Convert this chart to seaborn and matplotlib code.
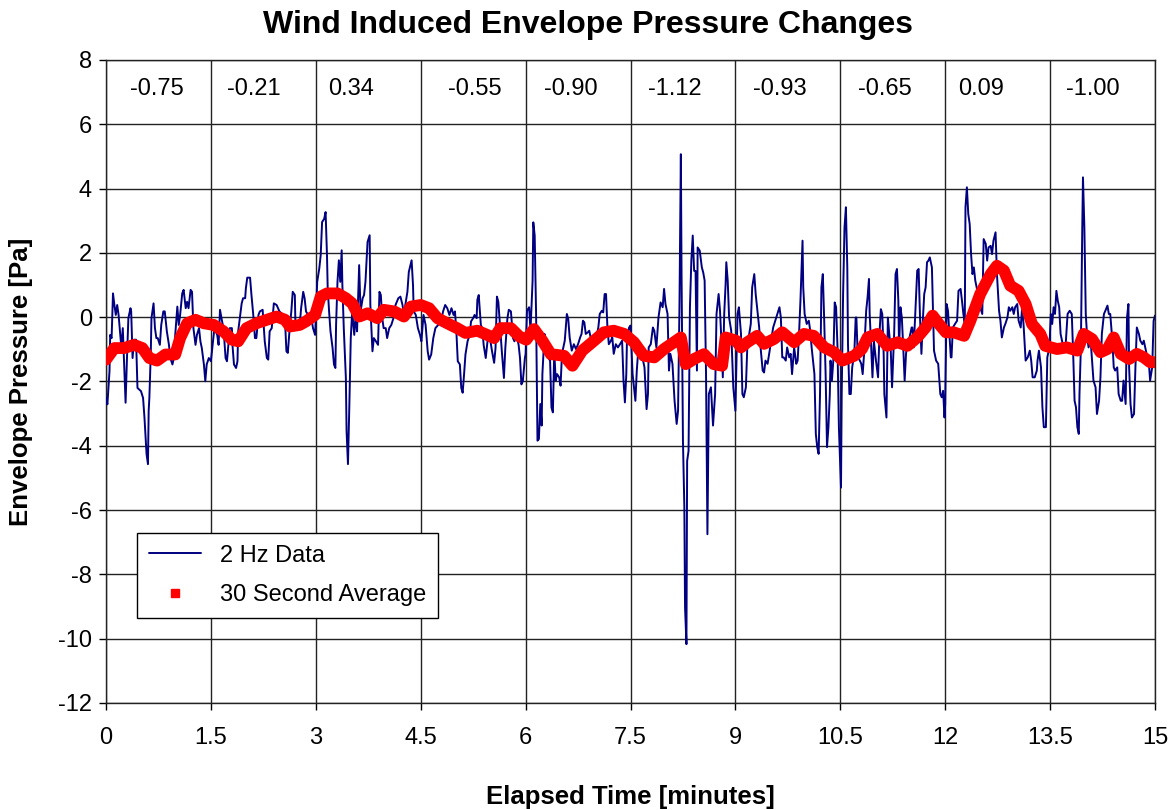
import matplotlib
matplotlib.use("Agg")
import matplotlib.pyplot as plt
import seaborn as sns
import pandas as pd
from matplotlib.lines import Line2D

# ---- 2 Hz data (minutes, Pa) ----
t_blue = [
 0.00,0.02,0.05,0.06,0.08,0.10,0.12,0.14,0.16,0.18,0.20,0.22,0.24,0.26,0.28,0.30,0.32,0.35,0.36,0.38,
 0.40,0.43,0.45,0.50,0.53,0.55,0.58,0.60,0.61,0.62,0.64,0.65,0.68,0.70,0.72,0.74,0.77,0.79,0.82,0.84,
 0.87,0.90,0.92,0.95,0.97,0.99,1.02,1.04,1.06,1.09,1.11,1.14,1.16,1.18,1.21,1.23,1.25,1.28,1.30,1.33,
 1.35,1.37,1.40,1.42,1.44,1.47,1.50,1.53,1.55,1.59,1.61,1.63,1.66,1.68,1.71,1.73,1.75,1.77,1.80,1.81,
 1.83,1.86,1.88,1.89,1.92,1.94,1.96,1.99,2.00,2.02,2.06,2.08,2.11,2.13,2.15,2.18,2.20,2.24,2.27,2.30,
 2.32,2.34,2.37,2.40,2.44,2.48,2.51,2.56,2.58,2.60,2.63,2.65,2.67,2.70,2.71,2.74,2.77,2.79,2.82,2.84,
 2.86,2.89,2.91,2.93,2.96,2.99,
 3.00,3.02,3.05,3.07,3.09,3.12,3.14,3.16,3.17,3.19,3.21,3.24,3.26,3.28,3.29,3.31,3.33,3.35,3.37,3.38,
 3.40,3.43,3.44,3.46,3.48,3.50,3.52,3.55,3.57,3.59,3.62,3.64,3.67,3.69,3.71,3.74,3.77,3.78,3.81,3.83,
 3.86,3.89,3.91,3.93,3.95,3.97,4.00,4.02,4.05,4.08,4.11,4.14,4.18,4.21,4.24,4.26,4.28,4.31,4.33,4.37,
 4.39,4.40,4.43,4.46,4.49,4.51,4.54,4.57,4.60,4.62,4.65,4.68,4.71,4.75,4.79,4.82,4.85,4.88,4.91,4.94,
 4.97,4.99,5.01,5.03,5.06,5.08,5.10,5.12,5.14,5.17,5.20,5.22,5.25,5.27,5.30,5.31,5.33,5.36,5.38,5.40,
 5.43,5.46,5.49,5.52,5.55,5.57,5.59,5.61,5.63,5.66,5.69,5.71,5.74,5.76,5.79,5.82,5.84,5.87,5.90,5.92,
 5.94,5.96,5.99,
 6.00,6.02,6.05,6.07,6.10,6.11,6.13,6.15,6.17,6.19,6.21,6.23,6.24,6.27,6.29,6.32,6.35,6.37,6.39,6.41,
 6.43,6.45,6.48,6.50,6.52,6.56,6.59,6.61,6.63,6.66,6.69,6.72,6.75,6.78,6.80,6.82,6.84,6.86,6.89,6.91,
 6.93,6.96,6.99,7.02,7.04,7.06,7.09,7.11,7.13,7.15,7.17,7.19,7.22,7.24,7.26,7.29,7.32,7.35,7.38,7.40,
 7.42,7.44,7.45,7.48,7.50,7.53,7.55,7.57,7.59,7.61,7.64,7.67,7.70,7.73,7.75,7.76,7.79,7.82,7.84,7.87,
 7.90,7.93,7.96,7.98,8.00,8.03,8.05,8.07,8.10,8.13,8.16,8.18,8.20,8.21,8.22,8.23,8.25,8.27,8.28,8.30,
 8.31,8.33,8.35,8.37,8.39,8.41,8.43,8.45,8.46,8.49,8.52,8.54,8.56,8.58,8.60,8.62,8.65,8.67,8.68,8.71,
 8.73,8.76,8.78,8.80,8.82,8.84,8.86,8.87,8.89,8.91,8.94,8.97,9.00,
 9.03,9.05,9.08,9.10,9.12,9.15,9.17,9.19,9.22,9.24,9.27,9.29,9.31,9.34,9.36,9.39,9.41,9.43,9.46,9.49,
 9.51,9.54,9.57,9.60,9.63,9.65,9.67,9.69,9.72,9.74,9.77,9.79,9.81,9.84,9.87,9.89,9.91,9.93,9.96,9.97,
 9.99,10.02,10.05,10.07,10.09,10.11,10.13,10.15,10.17,10.19,10.21,10.23,10.25,10.27,10.29,10.31,10.33,10.35,10.36,10.38,
 10.40,10.42,10.44,10.46,10.48,10.51,10.52,10.54,10.56,10.58,10.60,10.61,10.63,10.65,10.67,10.70,10.72,10.73,10.75,10.78,
 10.80,10.82,10.84,10.87,10.89,10.91,10.92,10.94,10.96,10.98,11.01,11.04,11.06,11.08,11.10,11.12,11.13,11.16,11.18,11.20,
 11.22,11.24,11.27,11.29,11.31,11.33,11.34,11.36,11.38,11.40,11.42,11.44,11.46,11.49,11.52,11.53,11.55,11.58,11.60,11.62,
 11.64,11.66,11.68,11.70,11.72,11.74,11.76,11.78,11.81,11.84,11.87,11.90,11.93,11.95,11.97,11.99,
 12.00,12.02,12.04,12.06,12.08,12.09,12.11,12.14,12.17,12.19,12.22,12.24,12.26,12.28,12.29,12.31,12.33,12.35,12.37,12.39,
 12.41,12.43,12.46,12.48,12.50,12.53,12.55,12.58,12.60,12.62,12.65,12.67,12.69,12.72,12.74,12.77,12.79,12.81,12.84,12.86,
 12.89,12.91,12.93,12.96,12.98,13.00,13.03,13.05,13.08,13.10,13.12,13.15,13.18,13.21,13.23,13.25,13.28,13.31,13.32,13.34,
 13.37,13.39,13.41,13.44,13.46,13.49,13.51,13.53,13.55,13.57,13.59,13.61,13.63,13.65,13.68,13.70,13.72,13.75,13.78,13.81,
 13.83,13.85,13.87,13.89,13.91,13.92,13.94,13.96,13.97,13.99,14.01,14.03,14.05,14.08,14.10,14.12,14.15,14.17,14.20,14.22,
 14.24,14.27,14.29,14.32,14.34,14.36,14.39,14.41,14.43,14.46,14.48,14.51,14.53,14.55,14.58,14.60,14.62,14.63,14.65,14.67,
 14.70,14.72,14.74,14.77,14.79,14.82,14.84,14.86,14.89,14.91,14.93,14.96,14.98,15.00,
]
p_blue = [
 -2.51,-2.71,-1.68,-0.55,-0.65,0.74,0.38,0.07,0.38,0.07,-0.44,-0.96,-0.34,-1.47,-2.66,-1.27,-0.03,0.28,0.18,-1.27,
 -0.70,-0.70,-2.20,-2.30,-2.51,-3.12,-4.26,-4.57,-2.92,-2.51,-1.16,-0.03,0.43,-0.34,-0.65,-0.65,-0.86,-0.24,0.18,0.18,
 -0.44,-0.86,-1.27,-1.47,-1.27,-0.55,0.33,-0.24,0.07,0.74,0.85,0.28,0.48,0.28,0.85,0.79,-0.34,-0.86,-0.55,-0.34,
 -0.75,-0.96,-1.47,-1.99,-1.47,-1.27,-1.37,-0.75,-0.34,-0.55,-0.86,0.23,-0.13,-0.34,-1.27,-1.37,-0.86,-0.34,-0.34,-0.91,
 -1.47,-1.58,-1.37,-0.44,0.07,0.43,0.59,0.59,0.90,1.23,1.23,0.69,-0.03,-0.65,-0.65,0.07,0.18,0.23,-0.75,-1.27,
 -1.32,-0.44,-0.34,0.43,0.38,0.18,0.12,-0.13,-1.06,-1.11,-0.24,0.18,0.79,0.69,-0.34,-0.24,-0.24,0.28,0.79,0.59,
 0.18,0.07,-0.03,0.07,-0.34,-0.55,
 -0.03,1.10,1.52,1.93,2.96,3.06,3.27,1.93,0.90,0.18,-0.44,-0.96,-1.47,-1.58,-0.24,1.10,1.77,1.10,2.08,1.00,
 -0.34,-1.89,-3.54,-4.57,-2.71,-0.65,0.18,-0.55,0.07,-0.44,1.62,0.18,0.59,0.69,1.10,2.34,2.55,0.38,-1.06,-0.65,
 -0.75,-0.86,0.79,0.69,-0.03,-0.34,-0.34,-0.65,-0.34,-0.24,-0.03,0.38,0.59,0.64,0.38,0.07,0.38,0.79,1.41,1.77,
 1.00,0.18,0.07,-0.34,-0.55,-0.75,0.07,-0.24,-1.06,-1.32,-1.16,-0.65,-0.34,-0.24,-0.13,0.18,0.38,0.28,0.07,0.28,
 0.07,0.18,-0.44,-1.37,-1.47,-2.20,-2.35,-1.78,-1.16,-0.75,-0.55,-0.13,-0.03,0.07,-0.03,0.54,0.69,-0.24,-0.34,-0.86,
 -1.27,-0.65,-0.65,-1.06,-1.42,-0.96,0.64,0.48,-0.13,-1.06,-1.89,-0.96,-0.03,0.23,0.18,-0.65,-0.75,-0.55,-0.86,-1.27,
 -2.09,-1.99,-1.27,
 -1.14,0.20,0.31,-0.42,1.14,2.95,2.54,0.10,-3.84,-3.79,-2.70,-3.37,-1.77,-0.52,-0.84,-1.25,-1.35,-2.81,-2.96,-1.04,
 -1.97,-1.77,-1.87,-2.13,-1.14,-0.73,0.10,-0.06,-0.63,-1.04,-0.84,-0.99,-0.84,-0.63,-0.52,-0.11,-0.16,-0.52,-0.47,-0.42,
 -0.63,-0.73,-0.84,-0.52,-0.32,0.10,0.20,0.15,0.72,0.72,-0.32,-0.84,-0.73,-0.63,-1.14,-0.84,-0.94,-0.84,-0.73,-1.97,
 -2.65,-1.77,-0.63,-0.32,-0.26,-1.77,-2.18,-2.60,-1.66,-1.04,-1.14,-1.25,-1.56,-2.86,-2.39,-0.94,-0.84,-0.32,-0.42,-0.94,
 -0.01,0.46,0.31,0.88,0.41,0.10,-1.66,-1.14,-1.45,-2.60,-3.32,-2.91,0.31,2.59,5.07,1.34,-3.84,-5.92,-9.03,-10.17,
 -4.47,-4.16,0.31,1.76,2.54,1.44,1.44,-1.66,2.17,2.07,1.55,1.39,1.14,-1.77,-6.75,-2.39,-2.18,-3.01,-3.37,-2.39,
 0.10,0.72,0.20,-0.73,-1.87,0.10,1.03,1.71,1.14,-0.01,-0.42,-2.18,-2.91,
 0.10,0.31,-0.52,-2.39,-2.49,-2.18,-0.94,-0.63,-0.21,0.93,1.34,0.72,0.31,-0.32,-0.94,-1.66,-1.72,-1.35,-1.45,-1.04,
 -0.73,-0.32,-0.11,0.10,0.31,-0.01,-1.25,-1.25,-1.35,-0.94,-1.25,-1.14,-1.77,-0.94,-1.45,-1.35,-0.52,0.51,2.38,0.93,
 0.10,-0.21,-0.11,-0.42,-0.94,-1.35,-1.77,-3.63,-4.04,-4.25,-2.39,0.93,1.34,-0.11,-1.77,-4.04,-3.43,-2.39,-1.35,-1.97,
 -1.35,0.46,0.31,-0.94,-3.43,-5.30,-2.39,0.72,2.79,3.42,1.55,-0.84,-2.39,-2.39,-1.56,-1.14,-0.01,-0.01,-1.25,-1.35,
 -1.45,-1.77,-1.14,0.20,0.62,1.19,0.10,-0.84,-1.87,-0.73,-1.35,-1.87,-0.52,0.25,0.10,-1.14,-2.39,-3.12,-0.01,-0.52,
 -0.94,-2.18,-0.52,1.34,1.50,0.51,-0.94,0.31,-0.01,-0.94,-1.97,-1.14,-0.73,-0.63,-0.32,-0.32,-0.94,0.51,1.45,1.50,
 -0.01,-1.14,-0.11,0.72,0.93,1.71,1.76,1.86,1.55,-1.04,-1.35,-1.45,-2.39,-2.49,-2.29,-3.12,
 -2.70,0.41,0.20,-0.52,-1.25,-1.25,-0.32,-0.21,-0.11,0.82,0.88,0.51,0.10,-0.21,3.42,4.04,3.21,2.90,1.96,1.34,
 1.55,1.14,0.82,0.72,0.31,0.10,2.43,2.28,1.76,2.17,2.22,1.96,2.38,2.64,1.34,0.20,-0.11,-0.63,-0.32,-0.21,
 -0.01,0.31,0.20,0.31,0.10,0.31,0.41,-0.11,-0.32,0.31,-0.21,-1.35,-1.25,-1.04,-1.35,-1.87,-1.87,-1.66,-1.35,-1.04,
 -1.56,-2.80,-3.42,-3.42,-1.25,-0.94,0.10,-0.21,0.31,0.10,0.82,0.51,0.31,-0.52,-0.84,-1.04,-0.94,0.10,0.20,0.10,
 -1.14,-2.60,-2.80,-3.42,-3.63,-2.39,-0.94,2.79,4.35,2.79,0.10,-0.63,-0.94,-0.73,-1.35,-1.97,-2.18,-3.01,-2.60,-1.87,
 -0.52,0.10,0.20,0.36,0.10,0.10,-0.73,-1.56,-1.66,-1.56,-2.39,-2.60,-2.60,-1.97,-2.70,-0.01,0.41,-1.56,-2.70,-3.12,
 -3.01,-1.56,-0.32,-0.52,-0.73,-0.84,-0.73,-0.94,-1.25,-1.35,-1.97,-1.56,-0.11,0.05,
]

# ---- 30 second average (minutes, Pa) ----
t_avg = [0.00,0.12,0.26,0.40,0.52,0.62,0.73,0.85,0.99,1.06,1.16,1.28,1.40,1.54,1.68,1.80,1.89,2.01,2.15,2.30,
         2.44,2.56,2.63,2.77,2.86,2.99,3.07,3.16,3.31,3.43,3.52,3.62,3.74,3.88,3.97,4.12,4.26,4.36,4.50,4.62,
         4.74,4.88,5.02,5.14,5.31,5.45,5.55,5.64,5.79,5.91,6.01,6.12,6.24,6.36,6.55,6.67,6.81,6.98,7.12,7.26,
         7.41,7.55,7.69,7.84,7.98,8.12,8.22,8.29,8.41,8.55,8.69,8.81,8.86,9.01,9.08,9.17,9.31,9.41,9.55,9.67,
         9.84,9.98,10.12,10.27,10.41,10.53,10.70,10.81,10.89,11.03,11.17,11.32,11.46,11.60,11.72,11.82,11.91,12.01,12.12,12.27,
         12.36,12.50,12.65,12.74,12.84,12.93,13.05,13.15,13.24,13.36,13.43,13.60,13.74,13.89,13.98,14.10,14.22,14.32,14.41,14.51,
         14.63,14.74,14.84,14.93,15.00]
p_avg = [-1.32,-0.96,-0.96,-0.86,-0.96,-1.27,-1.35,-1.16,-1.16,-0.65,-0.19,-0.08,-0.19,-0.24,-0.44,-0.70,-0.75,-0.34,-0.19,-0.08,
         0.02,-0.08,-0.29,-0.24,-0.13,0.07,0.64,0.74,0.74,0.59,0.43,0.02,0.12,-0.03,0.23,0.18,0.02,0.33,0.38,0.28,
         -0.03,-0.19,-0.34,-0.49,-0.42,-0.55,-0.65,-0.34,-0.34,-0.60,-0.70,-0.37,-0.73,-1.15,-1.20,-1.51,-1.04,-0.73,-0.47,-0.42,
         -0.52,-0.78,-1.20,-1.25,-0.99,-0.78,-0.63,-1.46,-1.30,-1.15,-1.46,-1.51,-0.63,-0.73,-0.94,-0.78,-0.58,-0.83,-0.68,-0.47,
         -0.78,-0.52,-0.58,-0.94,-1.09,-1.35,-1.20,-0.99,-0.63,-0.52,-0.89,-0.78,-0.89,-0.63,-0.32,0.05,-0.21,-0.47,-0.47,-0.58,
         -0.11,0.72,1.34,1.60,1.45,0.98,0.82,0.41,-0.21,-0.52,-0.89,-0.99,-0.94,-1.04,-0.52,-0.68,-1.09,-0.99,-0.63,-1.14,
         -1.30,-1.14,-1.25,-1.40,-1.40]

# ---- text ----
segment_values = ["-0.75", "-0.21", "0.34", "-0.55", "-0.90", "-1.12", "-0.93", "-0.65", "0.09", "-1.00"]
segment_label_x = [0.73, 2.12, 3.50, 5.28, 6.65, 8.14, 9.64, 11.14, 12.51, 14.11]
x_ticks = [0, 1.5, 3, 4.5, 6, 7.5, 9, 10.5, 12, 13.5, 15]
y_ticks = [-12, -10, -8, -6, -4, -2, 0, 2, 4, 6, 8]
title = "Wind Induced Envelope Pressure Changes"
x_label = "Elapsed Time [minutes]"
y_label = "Envelope Pressure [Pa]"
series_names = ["2 Hz Data", "30 Second Average"]

sns.set_theme(style="white")
plt.rcParams["font.family"] = ["Liberation Sans", "DejaVu Sans"]
plt.rcParams["text.color"] = "black"
plt.rcParams["axes.labelcolor"] = "black"

df_raw = pd.DataFrame({"t": t_blue, "p": p_blue})
df_avg = pd.DataFrame({"t": t_avg, "p": p_avg})

fig = plt.figure(figsize=(11.76, 8.10), dpi=100)
ax = fig.add_axes([106/1176, 1 - 703/810, (1155-106)/1176, (703-60)/810])

sns.lineplot(data=df_raw, x="t", y="p", ax=ax, color="#000080", linewidth=1.4,
             estimator=None, sort=False, zorder=3)
sns.lineplot(data=df_avg, x="t", y="p", ax=ax, color="#ff0000", linewidth=8.5,
             estimator=None, sort=False, zorder=4)

ax.set_xlim(0, 15)
ax.set_ylim(-12, 8)
ax.set_xticks(x_ticks)
ax.set_xticklabels([f"{v:g}" for v in x_ticks])
ax.set_yticks(y_ticks)
ax.set_yticklabels([f"{v:g}" for v in y_ticks])
ax.tick_params(axis="x", which="major", labelsize=17, direction="out", length=5,
               width=1, color="black", labelcolor="black", bottom=True, pad=12)
ax.tick_params(axis="y", which="major", labelsize=17, direction="out", length=5,
               width=1, color="black", labelcolor="black", left=True, pad=5)
ax.grid(True, color="#222222", linewidth=1.0)
ax.set_axisbelow(True)
for s in ax.spines.values():
    s.set_color("#222222")
    s.set_linewidth(1.0)

for x, txt in zip(segment_label_x, segment_values):
    ax.text(x, 7.1, txt, ha="center", va="center", fontsize=17, color="black")

ax.set_xlabel(x_label, fontsize=18.5, fontweight="bold", labelpad=26)
ax.set_ylabel(y_label, fontsize=18.5, fontweight="bold", labelpad=18)
fig.suptitle(title, fontsize=23, fontweight="bold", y=1 - 25/810, va="center", color="black")

handles = [Line2D([], [], color="#000080", linewidth=1.4),
           Line2D([], [], color="#ff0000", marker="s", linestyle="none", markersize=5.5)]
leg = ax.legend(handles, series_names, loc="lower left", bbox_to_anchor=(0.030, 0.132),
                fontsize=17, frameon=True, fancybox=False, framealpha=1, edgecolor="black",
                borderpad=0.5, handlelength=2.2, labelspacing=0.75, borderaxespad=0)
leg.get_frame().set_linewidth(1.0)

fig.savefig("out.png", dpi=100)
